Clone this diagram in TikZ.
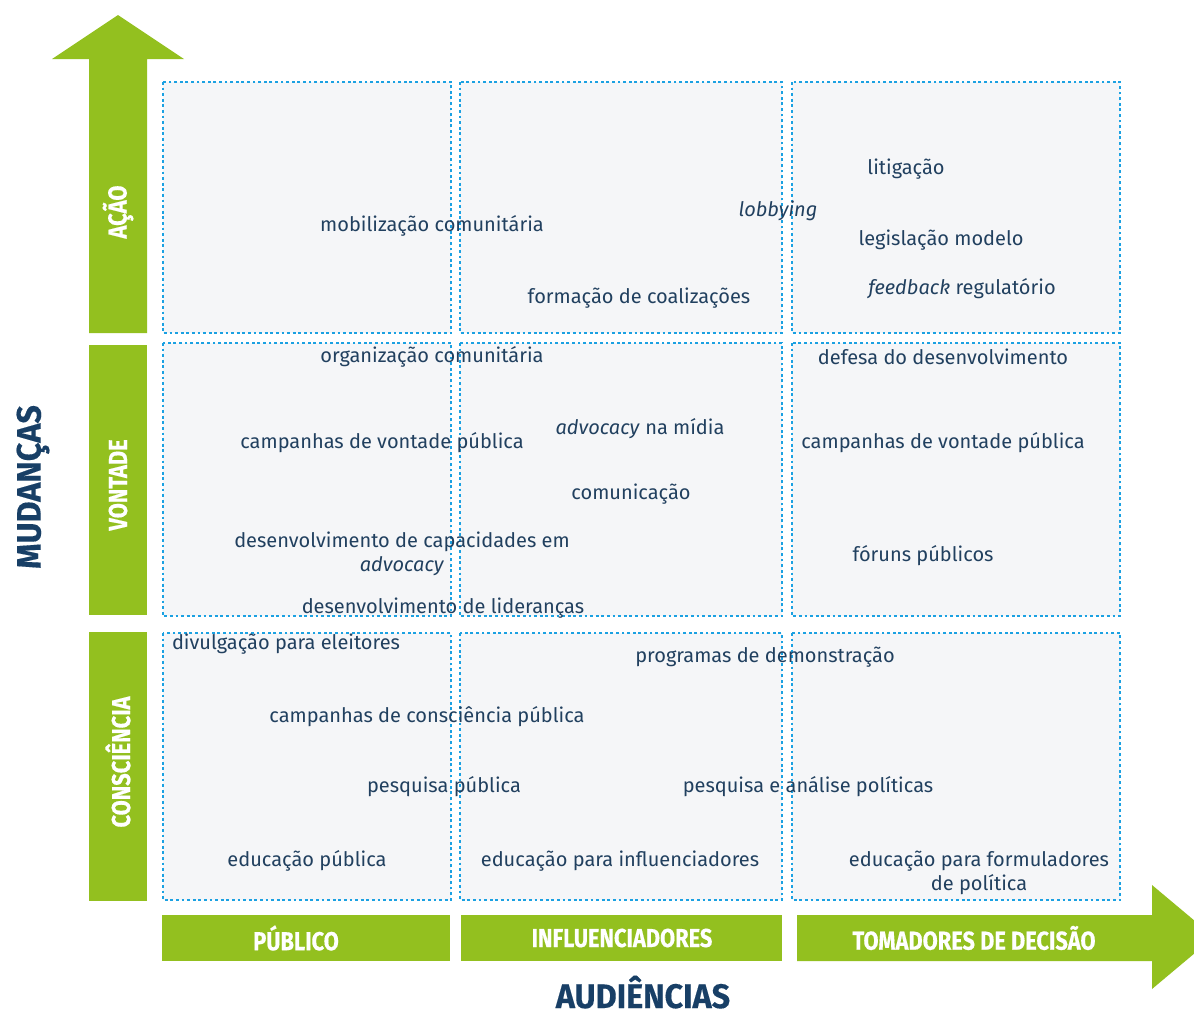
\documentclass[tikz,border=0pt]{standalone}
\usepackage{fontspec}
\setmainfont{Fira Sans}
\newfontfamily\condfont[FakeStretch=0.84, BoldFeatures={FakeBold=0.4}]{Fira Sans}
\newfontfamily\eixofont[FakeStretch=0.95, BoldFeatures={FakeBold=0.3}]{Fira Sans}
\definecolor{verde}{HTML}{93C01F}
\definecolor{pontilhado}{HTML}{1BA1E2}
\definecolor{fundo}{HTML}{F5F6F8}
\definecolor{azul}{HTML}{21405F}
\definecolor{titulo}{HTML}{183F66}

\begin{document}
\begin{tikzpicture}[x=1pt,y=-1pt]
    \tikzstyle{celula} = [draw=pontilhado, fill=fundo, line width=2.8pt, dash pattern=on 2.8pt off 2.8pt]
    \tikzstyle{faixa} = [fill=verde]
    \tikzstyle{estrategia} = [text=azul, font=\fontsize{20}{24}\selectfont, inner sep=0pt, align=center]
    \tikzstyle{rotulo} = [text=white, font=\condfont\bfseries\fontsize{26}{30}\selectfont, inner sep=0pt]
    \tikzstyle{eixo} = [text=titulo, font=\eixofont\bfseries\fontsize{34}{38}\selectfont, inner sep=0pt]
    \clip (0,0) rectangle (1194,1013);
    % grade de celulas
    \foreach \xa/\xb in {163/451, 460/782, 792/1120}
        \foreach \ya/\yb in {82/333, 343/616, 633/900}
            \draw[celula] (\xa,\ya) rectangle (\xb,\yb);
    % eixo vertical
    \fill[faixa] (89,333) -- (89,59) -- (52,59) -- (118,15) -- (184,59) -- (147,59) -- (147,333) -- cycle;
    \fill[faixa] (89,345) rectangle (147,615);
    \fill[faixa] (89,632) rectangle (147,901);
    \node[rotulo, rotate=90] (acao) at (118,212) {AÇÃO};
    \node[rotulo, rotate=90] (vontade) at (118,485) {VONTADE};
    \node[rotulo, rotate=90] (consciencia) at (118,762) {CONSCIÊNCIA};
    \node[eixo, rotate=90] (mudancas) at (33,487) {MUDANÇAS};
    % eixo horizontal
    \fill[faixa] (162,915) rectangle (450,961);
    \fill[faixa] (461,915) rectangle (782,961);
    \fill[faixa] (797,915) -- (1152,915) -- (1152,885) -- (1214,937) -- (1152,989) -- (1152,961) -- (797,961) -- cycle;
    \node[rotulo] (publico) at (296,938) {PÚBLICO};
    \node[rotulo] (influenciadores) at (622,938) {INFLUENCIADORES};
    \node[rotulo] (tomadores) at (974,938) {TOMADORES DE DECISÃO};
    \node[eixo, anchor=base] (audiencias) at (643,1008) {AUDIÊNCIAS};
    % acao
    \node[estrategia] (mobilizacao) at (432,226) {mobilização comunitária};
    \node[estrategia] (lobbying) at (778,211) {\itshape lobbying};
    \node[estrategia] (coalizoes) at (639,298) {formação de coalizações};
    \node[estrategia] (litigacao) at (906,169) {litigação};
    \node[estrategia] (legislacao) at (941,240) {legislação modelo};
    \node[estrategia] (feedback) at (962,289) {\textit{feedback} regulatório};
    % vontade
    \node[estrategia] (organizacao) at (432,357) {organização comunitária};
    \node[estrategia] (defesa) at (943,357) {defesa do desenvolvimento};
    \node[estrategia] (vontadeA) at (382,443) {campanhas de vontade pública};
    \node[estrategia] (midia) at (640,429) {\textit{advocacy} na mídia};
    \node[estrategia] (vontadeB) at (943,443) {campanhas de vontade pública};
    \node[estrategia] (comunicacao) at (631,494) {comunicação};
    \node[estrategia] (capacidades) at (402,554) {desenvolvimento de capacidades em\\\textit{advocacy}};
    \node[estrategia] (foruns) at (923,556) {fóruns públicos};
    \node[estrategia] (liderancas) at (443,608) {desenvolvimento de lideranças};
    % consciencia
    \node[estrategia] (divulgacao) at (286,644) {divulgação para eleitores};
    \node[estrategia] (programas) at (765,657) {programas de demonstração};
    \node[estrategia] (conscienciaPub) at (427,717) {campanhas de consciência pública};
    \node[estrategia] (pesquisaPub) at (444,787) {pesquisa pública};
    \node[estrategia] (pesquisaPol) at (808,787) {pesquisa e análise políticas};
    \node[estrategia] (educacaoPub) at (307,861) {educação pública};
    \node[estrategia] (educacaoInf) at (620,861) {educação para influenciadores};
    \node[estrategia] (educacaoForm) at (979,873) {educação para formuladores\\de política};
\end{tikzpicture}
\end{document}
